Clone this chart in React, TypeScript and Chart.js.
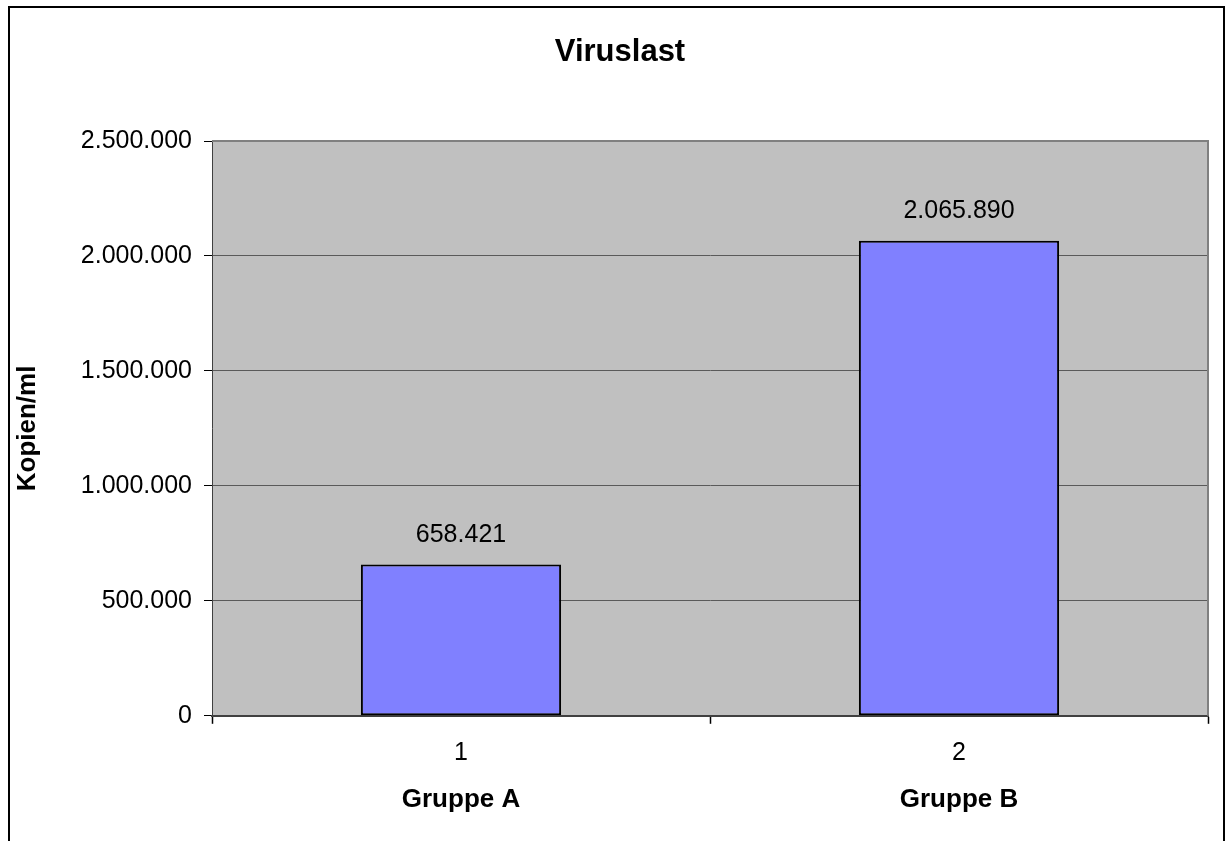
import React, { useEffect, useRef } from "react";
import { Chart, registerables } from "chart.js";

Chart.register(...registerables);

const chartTitle = "Viruslast";
const categories = ["1", "2"];
const groupLabels = ["Gruppe A", "Gruppe B"];
const viralLoad = [658421, 2065890];
const yTickMin = 0;
const yTickMax = 2500000;
const yTickStep = 500000;

const FONT = "'Liberation Sans', Arial, sans-serif";

function formatDe(v: number): string {
  const s = Math.round(v).toString();
  return s.replace(/\B(?=(\d{3})+(?!\d))/g, ".");
}

const framePlugin = {
  id: "frame",
  beforeDraw(chart: any) {
    const { ctx, chartArea } = chart;
    ctx.save();
    ctx.fillStyle = "#ffffff";
    ctx.fillRect(0, 0, chart.width, chart.height);
    ctx.fillStyle = "#C0C0C0";
    ctx.fillRect(chartArea.left, chartArea.top, chartArea.right - chartArea.left, chartArea.bottom - chartArea.top);
    ctx.restore();
  },
  afterDatasetsDraw(chart: any) {
    const { ctx, chartArea } = chart;
    ctx.save();
    ctx.strokeStyle = "#808080";
    ctx.lineWidth = 2;
    ctx.beginPath();
    ctx.moveTo(chartArea.left, chartArea.top);
    ctx.lineTo(chartArea.right, chartArea.top);
    ctx.lineTo(chartArea.right, chartArea.bottom);
    ctx.stroke();
    ctx.restore();

    // data labels
    const meta = chart.getDatasetMeta(0);
    ctx.save();
    ctx.fillStyle = "#000000";
    ctx.font = `25px ${FONT}`;
    ctx.textAlign = "center";
    ctx.textBaseline = "middle";
    meta.data.forEach((bar: any, i: number) => {
      ctx.fillText(formatDe(viralLoad[i]), bar.x, bar.y - 29.5);
    });
    ctx.restore();
  },
  afterDraw(chart: any) {
    const { ctx } = chart;
    ctx.save();
    // chart title
    ctx.fillStyle = "#000000";
    ctx.font = `bold 31px ${FONT}`;
    ctx.textAlign = "center";
    ctx.textBaseline = "middle";
    ctx.fillText(chartTitle, 620, 52);
    // outer frame
    ctx.strokeStyle = "#000000";
    ctx.lineWidth = 2;
    ctx.beginPath();
    ctx.moveTo(9, 900);
    ctx.lineTo(9, 7);
    ctx.lineTo(1224, 7);
    ctx.lineTo(1224, 900);
    ctx.stroke();
    ctx.restore();
  },
};

export default function App() {
  const canvasRef = useRef<HTMLCanvasElement | null>(null);

  useEffect(() => {
    document.body.style.margin = "0";
    document.body.style.overflow = "hidden";
    const canvas = canvasRef.current;
    if (!canvas) return;
    Chart.defaults.font.family = FONT;
    const chart = new Chart(canvas, {
      type: "bar",
      data: {
        labels: categories,
        datasets: [
          {
            label: "Kopien/ml",
            data: viralLoad,
            backgroundColor: "#8080FF",
            borderColor: "#000000",
            borderWidth: 2,
            borderSkipped: false,
            barPercentage: 0.402,
            categoryPercentage: 1,
            xAxisID: "x",
          },
        ],
      },
      options: {
        responsive: false,
        animation: false,
        events: [],
        layout: { padding: { left: 0, right: 18, top: 141, bottom: 24 } },
        plugins: {
          legend: { display: false },
          tooltip: { enabled: false },
          title: { display: false },
        },
        scales: {
          x: {
            type: "category",
            position: "bottom",
            weight: 0,
            offset: true,
            grid: {
              display: true,
              offset: true,
              drawOnChartArea: false,
              drawTicks: true,
              tickLength: 8,
              tickColor: "#000000",
              tickWidth: 1.5,
            },
            border: { display: true, color: "#404040", width: 2 },
            ticks: {
              color: "#000000",
              font: { size: 25, lineHeight: 1.2 },
              padding: 14,
              maxRotation: 0,
            },
          },
          x2: {
            type: "category",
            position: "bottom",
            weight: 1,
            offset: true,
            labels: groupLabels,
            grid: { display: false, drawTicks: false, drawOnChartArea: false },
            border: { display: false },
            ticks: {
              color: "#000000",
              font: { size: 26, weight: "bold", lineHeight: 1.2 },
              padding: 2,
              maxRotation: 0,
            },
          },
          y: {
            type: "linear",
            min: yTickMin,
            max: yTickMax,
            grid: {
              color: "#5a5a5a",
              lineWidth: 1,
              drawTicks: true,
              tickLength: 8,
              tickColor: "#000000",
            },
            border: { display: true, color: "#404040", width: 1 },
            ticks: {
              stepSize: yTickStep,
              color: "#000000",
              font: { size: 25, lineHeight: 1.2 },
              padding: 12,
              callback: (v: any) => formatDe(Number(v)),
            },
            title: {
              display: true,
              text: "Kopien/ml",
              color: "#000000",
              font: { size: 26, weight: "bold", lineHeight: 1.2 },
              padding: { top: 12, bottom: 0 },
            },
            afterFit: (scale: any) => {
              scale.width = 212;
            },
          },
        },
      },
      plugins: [framePlugin],
    });
    return () => chart.destroy();
  }, []);

  return (
    <div style={{ width: 1226, height: 841 }}>
      <canvas ref={canvasRef} width={1226} height={841} style={{ display: "block", width: 1226, height: 841 }} />
    </div>
  );
}
